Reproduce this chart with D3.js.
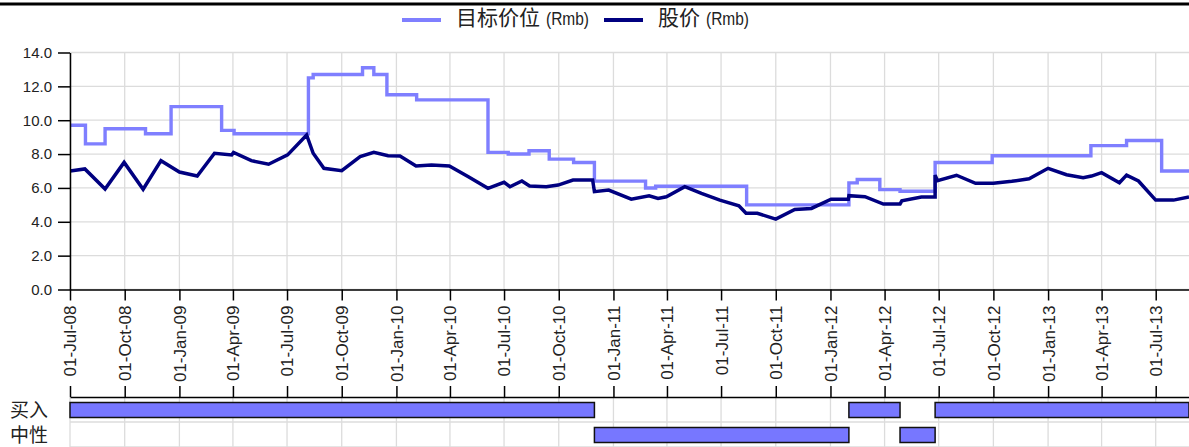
<!DOCTYPE html>
<html><head><meta charset="utf-8">
<script src="https://cdn.jsdelivr.net/npm/d3@7"></script>
<style>body{margin:0;background:#fff}svg{display:block}</style>
</head><body><svg id="c" width="1189" height="447"></svg>
<script>
// ---------- data ----------
const seriesNames = ["目标价位", "股价"];
const unitLabel = "(Rmb)";
const xDomain = ["2008-07-01", "2013-08-26"];
const yTickValues = [0, 2, 4, 6, 8, 10, 12, 14];

const targetDates = ["2008-07-01","2008-07-27","2008-08-29","2008-11-05","2008-12-18","2009-03-13","2009-04-03",
  "2009-08-06","2009-08-14","2009-11-05","2009-11-24","2009-12-16","2010-02-04","2010-06-04","2010-07-08",
  "2010-08-12","2010-09-15","2010-10-26","2010-11-30","2011-02-24","2011-03-13","2011-08-13","2012-02-01",
  "2012-02-15","2012-03-24","2012-04-27","2012-06-25","2012-09-29","2013-03-14","2013-05-13","2013-07-11","2013-08-26"];
const targetValues = [9.7,8.6,9.5,9.2,10.8,9.4,9.2,
  12.5,12.7,13.1,12.7,11.5,11.2,8.1,8.0,
  8.2,7.7,7.5,6.4,6.0,6.1,5.0,6.3,
  6.5,5.9,5.8,7.5,7.9,8.5,8.8,7.0,7.0];

const priceDates = ["2008-07-01","2008-07-26","2008-08-29","2008-09-30","2008-11-01","2008-12-01","2009-01-01",
  "2009-01-31","2009-03-01","2009-03-30","2009-04-02","2009-05-02","2009-05-31","2009-07-02","2009-08-03",
  "2009-08-14","2009-09-01","2009-10-01","2009-11-01","2009-11-24","2009-12-18","2010-01-07","2010-02-03",
  "2010-03-01","2010-03-31","2010-05-02","2010-06-04","2010-07-01","2010-07-11","2010-07-31","2010-08-13",
  "2010-09-10","2010-09-30","2010-10-25","2010-11-27","2010-11-30","2010-12-24","2011-01-31","2011-03-02",
  "2011-03-17","2011-03-31","2011-05-01","2011-05-29","2011-06-29","2011-07-31","2011-08-12","2011-08-31",
  "2011-10-01","2011-11-02","2011-11-30","2012-01-02","2012-01-31","2012-02-01","2012-02-28","2012-03-30",
  "2012-04-27","2012-04-30","2012-06-02","2012-06-25","2012-06-25","2012-06-29","2012-07-31","2012-09-01",
  "2012-10-01","2012-11-01","2012-11-30","2013-01-01","2013-02-01","2013-03-01","2013-03-15","2013-04-01",
  "2013-05-01","2013-05-13","2013-06-02","2013-07-01","2013-07-31","2013-08-26"];
const priceValues = [7.0,7.12,5.93,7.51,5.92,7.61,6.94,
  6.7,8.05,7.95,8.1,7.61,7.4,7.95,9.13,
  8.05,7.16,7.02,7.85,8.1,7.9,7.89,7.3,
  7.35,7.3,6.66,5.98,6.33,6.07,6.41,6.11,
  6.07,6.17,6.47,6.47,5.78,5.87,5.34,5.54,
  5.38,5.48,6.07,5.68,5.28,4.95,4.5,4.5,
  4.16,4.73,4.79,5.33,5.33,5.54,5.48,5.05,
  5.05,5.24,5.46,5.46,6.76,6.43,6.75,6.27,
  6.27,6.39,6.54,7.16,6.78,6.6,6.7,6.9,
  6.31,6.76,6.41,5.28,5.28,5.46];

const ratingCategories = ["买入", "中性"];
const ratingRows   = ["买入", "中性", "买入", "中性", "买入"];
const ratingStarts = ["2008-07-01","2010-11-30","2012-02-01","2012-04-27","2012-06-25"];
const ratingEnds   = ["2010-11-30","2012-02-01","2012-04-27","2012-06-25","2013-08-26"];

// ---------- chart ----------
(function () {
const W = 1189;
const pLeft = 70, pRight = 1189, pTop = 52.5, pBottom = 289.5;
const rowTop = 397, rowBottom = 447;
const parse = d3.timeParse("%Y-%m-%d");
const fontLatin = "'Liberation Sans', Arial, sans-serif";
const fontCJK = "'Noto Sans CJK SC', 'Liberation Sans', sans-serif";
const targetColor = "#7f7fff", priceColor = "#000080", gridColor = "#dcdcdc";

const svg = d3.select("#c");
const x = d3.scaleTime().domain(xDomain.map(parse)).range([pLeft, pRight]);
const y = d3.scaleLinear().domain([0, 14]).range([pBottom, pTop]);
const xTicks = x.ticks(d3.timeMonth.every(3));
const row = d3.scaleBand().domain(ratingCategories).range([rowTop, rowBottom]);

// top rule
svg.append("line").attr("x1", 0).attr("x2", W).attr("y1", 4).attr("y2", 4)
  .attr("stroke", "#000").attr("stroke-width", 3);

// gridlines
const grid = svg.append("g").attr("stroke", gridColor).attr("stroke-width", 1.3);
grid.selectAll("line.h").data(yTickValues).join("line").attr("class", "h")
  .attr("x1", pLeft).attr("x2", pRight).attr("y1", d => y(d)).attr("y2", d => y(d));
grid.selectAll("line.v").data(xTicks).join("line").attr("class", "v")
  .attr("x1", d => x(d)).attr("x2", d => x(d)).attr("y1", pTop).attr("y2", pBottom);
grid.selectAll("line.v2").data(xTicks).join("line").attr("class", "v2")
  .attr("x1", d => x(d)).attr("x2", d => x(d)).attr("y1", rowTop).attr("y2", rowBottom);
grid.selectAll("line.r").data(ratingCategories).join("line").attr("class", "r")
  .attr("x1", pLeft).attr("x2", pRight)
  .attr("y1", d => row(d) + row.bandwidth()).attr("y2", d => row(d) + row.bandwidth());

// series
svg.append("clipPath").attr("id", "pc").append("rect")
  .attr("x", pLeft).attr("y", 0).attr("width", pRight - pLeft).attr("height", pBottom + 5);
const targetData = targetDates.map((d, i) => ({ date: parse(d), v: targetValues[i] }));
const priceData = priceDates.map((d, i) => ({ date: parse(d), v: priceValues[i] }));

svg.append("path").datum(targetData).attr("clip-path", "url(#pc)")
  .attr("fill", "none").attr("stroke", targetColor).attr("stroke-width", 3.4)
  .attr("d", d3.line().x(d => x(d.date)).y(d => y(d.v)).curve(d3.curveStepAfter));
svg.append("path").datum(priceData).attr("clip-path", "url(#pc)")
  .attr("fill", "none").attr("stroke", priceColor).attr("stroke-width", 3.5)
  .attr("d", d3.line().x(d => x(d.date)).y(d => y(d.v)));

// y axis
const yAxis = svg.append("g").attr("transform", `translate(${pLeft},0)`)
  .call(d3.axisLeft(y).tickValues(yTickValues).tickFormat(d3.format(".1f")).tickSize(12).tickSizeOuter(0).tickPadding(6));
yAxis.selectAll("text").attr("font-family", fontLatin).attr("font-size", 15).attr("fill", "#222");
yAxis.selectAll("line,path").attr("stroke", "#000").attr("stroke-width", 1.5);

// x axis (top of label band)
const xAxis = svg.append("g").attr("transform", `translate(0,${pBottom})`)
  .call(d3.axisBottom(x).tickValues(xTicks).tickFormat(d3.timeFormat("%d-%b-%y")).tickSize(11).tickSizeOuter(0));
xAxis.selectAll("text").attr("font-family", fontLatin).attr("font-size", 17).attr("fill", "#222")
  .attr("transform", "rotate(-90)").attr("x", -16).attr("y", 0).attr("dy", "0.35em")
  .style("text-anchor", "end");
xAxis.selectAll("line,path").attr("stroke", "#000").attr("stroke-width", 1.5);

// lower axis (bottom of label band)
const xAxis2 = svg.append("g").attr("transform", `translate(0,${rowTop})`)
  .call(d3.axisTop(x).tickValues(xTicks).tickFormat("").tickSize(11).tickSizeOuter(0));
xAxis2.selectAll("line,path").attr("stroke", "#000").attr("stroke-width", 1.5);

// rating bars
const ratings = ratingRows.map((r, i) => ({ row: r, s: parse(ratingStarts[i]), e: parse(ratingEnds[i]) }));
svg.append("g").selectAll("rect").data(ratings).join("rect")
  .attr("x", d => x(d.s)).attr("width", d => x(d.e) - x(d.s))
  .attr("y", d => row(d.row) + 5.5).attr("height", row.bandwidth() - 10)
  .attr("fill", "#7777ff").attr("stroke", "#111").attr("stroke-width", 1.5);

svg.append("g").selectAll("text").data(ratingCategories).join("text")
  .attr("x", 10).attr("y", d => row(d) + row.bandwidth() / 2 + 7)
  .attr("font-family", fontCJK).attr("font-size", 19).attr("fill", "#222").text(d => d);

// legend
const legendItems = [
  { name: seriesNames[0], color: targetColor, x: 402 },
  { name: seriesNames[1], color: priceColor, x: 604 }
];
const lg = svg.append("g");
legendItems.forEach(it => {
  lg.append("line").attr("x1", it.x).attr("x2", it.x + 39).attr("y1", 20).attr("y2", 20)
    .attr("stroke", it.color).attr("stroke-width", 4);
  const t = lg.append("text").attr("x", it.x + 54).attr("y", 25).attr("fill", "#222")
    .attr("font-family", fontCJK).attr("font-size", 21).text(it.name);
  const w = t.node().getComputedTextLength();
  lg.append("text").attr("x", it.x + 54 + w + 6).attr("y", 25).attr("fill", "#222")
    .attr("font-family", fontLatin).attr("font-size", 18)
    .attr("textLength", 43).attr("lengthAdjust", "spacingAndGlyphs").text(unitLabel);
});
})();
</script></body></html>
